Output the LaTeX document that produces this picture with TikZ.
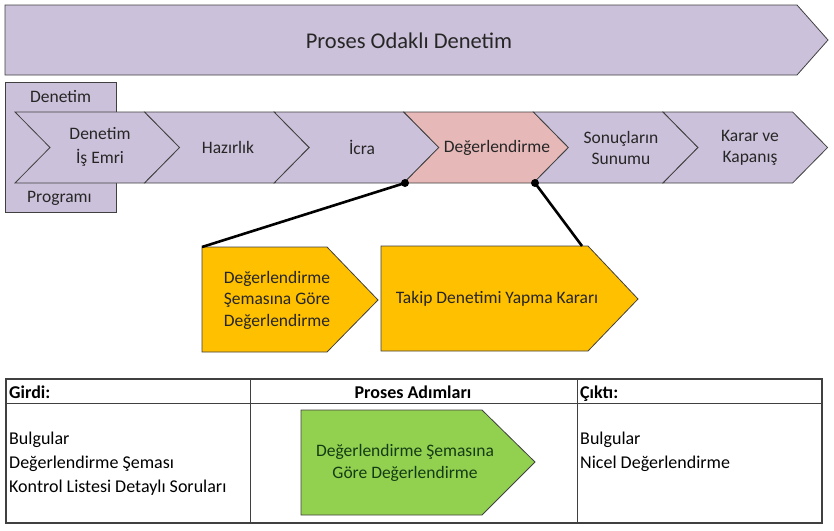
\documentclass[tikz,border=0pt]{standalone}
\usepackage{fontspec}
\setmainfont{Carlito}
\definecolor{lav}{RGB}{204,193,218}
\definecolor{pinkc}{RGB}{230,185,184}
\definecolor{yel}{RGB}{255,192,0}
\definecolor{grn}{RGB}{146,208,80}
\definecolor{edge}{RGB}{64,64,64}
\definecolor{txt}{RGB}{38,38,38}
\definecolor{gtxt}{RGB}{20,60,20}
\tikzset{
  shp/.style={draw=edge, line width=0.8pt},
  lbl/.style={text=txt, font=\fontsize{17.5}{21}\selectfont, align=center, inner sep=0pt},
  tlbl/.style={text=black, font=\fontsize{18}{24}\selectfont, inner sep=0pt, anchor=west},
  hdr/.style={text=black, font=\fontsize{18}{22}\selectfont\bfseries, inner sep=0pt},
  conn/.style={line width=2.6pt, black},
  dot/.style={fill=black, circle, inner sep=0pt, minimum size=8pt}
}
\begin{document}
\begin{tikzpicture}[x=1pt,y=-1pt]
\useasboundingbox (0,0) rectangle (834,530);
% top arrow
\draw[shp, fill=lav] (5,5) -- (797,5) -- (828,40) -- (797,75) -- (5,75) -- cycle;
\node[lbl, font=\fontsize{22.5}{26}\selectfont] (top) at (409,41) {Proses Odaklı Denetim};
% Denetim Programi box
\draw[shp, fill=lav] (5,82) rectangle (116,212);
\node[lbl, anchor=west] (dp1) at (30,97) {Denetim};
\node[lbl, anchor=west] (dp2) at (27,198) {Programı};
% chevrons
\foreach \s/\c in {15/lav, 144.6/lav, 274.2/lav, 403.8/pinkc, 533.4/lav, 663/lav}{
  \draw[shp, fill=\c] (\s,112) -- (\s+129.6,112) -- (\s+164.6,147.5) -- (\s+129.6,183) -- (\s,183) -- (\s+35,147.5) -- cycle;
}
\node[lbl, font=\fontsize{17.5}{24}\selectfont] (c1) at (100,147) {Denetim\\İş Emri};
\node[lbl] (c2) at (228,147.5) {Hazırlık};
\node[lbl] (c3) at (362,147.5) {İcra};
\node[lbl] (c4) at (497,147.5) {Değerlendirme};
\node[lbl] (c5) at (621,147.5) {Sonuçların\\Sunumu};
\node[lbl] (c6) at (750,147.5) {Karar ve\\Kapanış};
% yellow boxes
\draw[shp, fill=yel] (202,247) -- (327,247) -- (378,300) -- (327,352) -- (202,352) -- cycle;
\node[lbl, font=\fontsize{17.5}{21.5}\selectfont] (y1) at (277,300) {Değerlendirme\\Şemasına Göre\\Değerlendirme};
\draw[shp, fill=yel] (381,246) -- (588,246) -- (638,299) -- (588,351) -- (381,351) -- cycle;
\node[lbl] (y2) at (497,299) {Takip Denetimi Yapma Kararı};
% connectors
\coordinate (d1) at (405,183);
\coordinate (d2) at (535,183);
\coordinate (e1) at (202,247);
\coordinate (e2) at (582,246);
\draw[conn] (d1) -- (e1);
\draw[conn] (d2) -- (e2);
\node[dot] (dd1) at (d1) {};
\node[dot] (dd2) at (d2) {};
% table
\draw[line width=1.2pt, edge] (6,379) rectangle (822,523);
\draw[line width=1pt, edge] (6,403) -- (822,403);
\draw[line width=1pt, edge] (250,379) -- (250,523);
\draw[line width=1pt, edge] (577,379) -- (577,523);
\node[hdr, anchor=base west] (h1) at (9,398) {Girdi:};
\node[hdr, anchor=base] (h2) at (413,398) {Proses Adımları};
\node[hdr, anchor=base west] (h3) at (580,398) {Çıktı:};
\node[tlbl] (in1) at (9,440) {Bulgular};
\node[tlbl] (in2) at (9,464) {Değerlendirme Şeması};
\node[tlbl] (in3) at (9,488) {Kontrol Listesi Detaylı Soruları};
\node[tlbl] (out1) at (580,440) {Bulgular};
\node[tlbl] (out2) at (580,464) {Nicel Değerlendirme};
\draw[shp, fill=grn] (301,410) -- (482,410) -- (535,462) -- (482,515) -- (301,515) -- cycle;
\node[lbl, text=gtxt, font=\fontsize{17.5}{22}\selectfont] (g) at (405,463) {Değerlendirme Şemasına\\Göre Değerlendirme};
\end{tikzpicture}
\end{document}
